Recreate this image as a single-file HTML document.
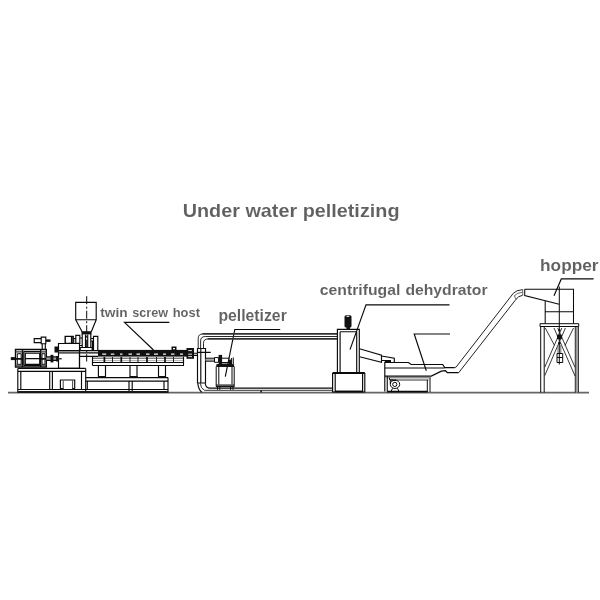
<!DOCTYPE html>
<html>
<head>
<meta charset="utf-8">
<title>Under water pelletizing</title>
<style>
html,body{margin:0;padding:0;background:#fff;width:600px;height:600px;overflow:hidden}
svg{display:block;will-change:transform}
svg text{font-family:"Liberation Sans",sans-serif;font-weight:bold;fill:#606060;stroke:#fff;stroke-width:.06px}
.l{fill:none;stroke:#0a0a0a;stroke-width:1.15}
.t{fill:none;stroke:#222;stroke-width:1}
.g{fill:none;stroke:#555;stroke-width:1.3}
.k{fill:#111;stroke:none}
.w{fill:#fff;stroke:none}
</style>
</head>
<body>
<svg width="600" height="600" viewBox="0 0 600 600">
<rect width="600" height="600" fill="#fff"/>

<!-- LABELS -->
<g id="labels">
<text x="182.700" y="217.300" font-size="18.200" textLength="216.800" lengthAdjust="spacingAndGlyphs">Under water pelletizing</text>
<text y="316.900" font-size="12.600"><tspan x="100.200" textLength="27.500" lengthAdjust="spacingAndGlyphs">twin</tspan> <tspan x="132.300" textLength="35.800" lengthAdjust="spacingAndGlyphs">screw</tspan> <tspan x="172.700" textLength="27.300" lengthAdjust="spacingAndGlyphs">host</tspan></text>
<text x="218.400" y="320.700" font-size="15.600" textLength="68.400" lengthAdjust="spacingAndGlyphs">pelletizer</text>
<text x="319.800" y="295" font-size="15" textLength="80.600" lengthAdjust="spacingAndGlyphs">centrifugal</text>
<text x="405.4" y="295" font-size="15" textLength="82.200" lengthAdjust="spacingAndGlyphs">dehydrator</text>
<text x="540.100" y="270.900" font-size="16.400" textLength="58.400" lengthAdjust="spacingAndGlyphs">hopper</text>
</g>

<!-- LEADERS -->
<g id="leaders" class="l">
<polyline points="169.300,322.400 124.500,322.400 153.500,350"/>
<polyline points="280.200,329.500 234.800,329.500 225.300,376.700"/>
<polyline points="449.500,304.800 366,304.800 350,349.600"/>
<polyline points="450,334 414.200,334 426.300,370.700"/>
<polyline points="593.600,278.900 561.300,278.900 554,295.800"/>
</g>

<!-- GROUND -->
<line x1="8" y1="392.700" x2="589" y2="392.700" stroke="#666" stroke-width="1.800"/>

<g id="extruder">
<!-- feed hopper -->
<path class="l" d="M75.700,302.400H96.200V319.700H75.700Z M75.700,319.700L82.100,331.700 M96.200,319.700L91.300,331.700"/>
<line class="l" x1="86.700" y1="296.200" x2="86.700" y2="361.500" style="stroke-dasharray:8 2.500 2 2;stroke-width:1"/>
<rect class="k" x="81.500" y="331.200" width="10.100" height="3.200"/>
<!-- neck -->
<path class="l" d="M82.200,334V347.500 M90.800,334V347.500 M85.500,334.500V347.500 M87.700,334.500V347.500"/>
<path class="l" d="M80.200,350.500V347.500H92.300V350.500 M80,350.600H98"/>
<!-- pieces right of neck -->
<path class="l" d="M93.500,336.400H97.800V350.500H93.500Z M91,338.500H93.500 M91,341H93.500"/><path d="M92.600,341V350" stroke="#0a0a0a" stroke-width="1.600" fill="none"/>
<!-- pieces left of neck -->
<path class="l" d="M65.200,336.400H73.200V343.400H65.200Z M71.600,336.400V343.400" style="stroke-width:1.400"/>
<path class="l" d="M73.200,338.500H75.800 M75.800,335.300H79.800V343.400H75.800Z M79.800,338H82.200 M79.800,345.500H82.200"/><path class="t" d="M74.500,339.500V342.500" style="stroke:#777;stroke-dasharray:1 1"/>
<!-- gearbox -->
<path class="l" d="M58.500,343.500H79.500V368.400H58.500Z M58.500,350.600H80 M58.500,352.800H80"/><path d="M58.500,351.700H79.500" stroke="#888" stroke-width="1.200" fill="none"/>
<rect class="k" x="54.5" y="346.5" width="4" height="6"/>
<!-- transition barrel -->
<path class="l" d="M80,352.800H98 M80,356.300H98 M79.500,350.500V368"/>
<!-- motor -->
<rect class="k" x="10.800" y="357.100" width="4.700" height="3"/>
<path class="l" d="M15.500,349.500H46.300V367H15.500Z M22.500,349.500V367 M40.700,349.500V367" style="stroke-width:1.400"/>
<path class="l" d="M23.400,351.600H40.700 M23.400,365.400H40.700 M23.800,351.600V365.400 M25.300,353.200H39.700V364.200H25.300Z M25.300,358.600H39.700"/>
<path class="l" d="M17.300,353.700H21.200V364.300H17.300Z M42,353.700H45V364.300H42Z" style="stroke-width:1"/>
<path d="M15.500,358.800H22.500 M40.700,358.800H46.300" stroke="#0a0a0a" stroke-width="1.800" fill="none"/>
<path d="M15.500,351.800H22.500 M15.500,365.200H22.500 M40.700,351.800H46.300 M40.700,365.200H46.300" stroke="#333" stroke-width="1.200" fill="none"/>
<!-- motor shaft -->
<path d="M46.300,358.600H58.500" stroke="#999" stroke-width="2.600" fill="none"/>
<path class="l" d="M46.300,356.800H58.500 M46.300,360.400H58.500"/>
<rect class="k" x="50.500" y="354.800" width="2.900" height="7.600"/>
<rect class="k" x="56.100" y="356" width="2.400" height="5.500"/>
<line class="l" x1="58.500" y1="358.800" x2="61.800" y2="358.800"/>
<!-- small valve on motor -->
<path class="l" d="M34.200,338.600H41.200V342.600H34.200Z M41.200,337.100H45.800V343.700H41.200Z M42.200,343.700V349.500 M45.300,343.700V349.500"/>
<rect class="k" x="45.800" y="339.400" width="4.700" height="2.500"/>
<!-- table -->
<path class="l" d="M17.800,368.400H85.700 M17.800,371.400H85.700 M17.800,368.400V391 M20.800,371.400V389 M49.700,371.400V389 M52.400,371.400V389 M81.500,371.400V389 M85.700,368.400V391"/>
<path class="l" d="M18,389.500H168" style="stroke-width:1"/><path class="l" d="M17.200,392H168.600" style="stroke-width:2;stroke:#1a1a1a"/>
<path class="l" d="M60.400,389.500V380H74.700V389.500"/><path class="t" d="M63.200,380.500V389.500 M72.600,380.500V389.500" style="stroke:#444"/><path d="M60.400,388.800H63.500 M72.300,388.800H74.700" stroke="#111" stroke-width="1.500" fill="none"/>
<!-- barrel -->
<rect class="k" x="98" y="349.900" width="89" height="6.700"/>
<path d="M102.200,354.100H106.200 M110.800,354.100H114.300 M120,354.100H122.500 M128.500,354.100H132 M136.500,354.100H140 M146,354.100H149.500 M154,354.100H158 M163,354.100H166 M171,354.100H174.500 M180,354.100H183" stroke="#f4f4f4" stroke-width="1.400" fill="none"/>
<rect class="k" x="171.500" y="346.500" width="5" height="4"/>
<rect class="w" x="173" y="348" width="2" height="1.300"/>
<!-- segments under barrel -->
<path class="t" d="M92.500,358.200H183.700" style="stroke:#444"/><path class="t" d="M92.500,360.600H183.700" style="stroke:#999;stroke-width:.8"/>
<path class="l" d="M92.500,356.800V365.500 M183.500,356.800V362.500"/>
<path class="l" d="M104.400,357V362.500 M121.300,357V362.500 M147,357V362.500 M165,357V362.500" style="stroke-width:1.700"/>
<path class="t" d="M112.500,357V362.500 M130,357V362.500 M138,357V362.500 M156.500,357V362.500 M173.500,357V362.500"/>
<!-- support beam -->
<path class="l" d="M92.500,362.500H183.500V365.500H92.500" style="stroke-width:1.100"/>
<path class="l" d="M98.400,365.200V377.500 M105.500,365.200V377.500 M130,365.200V377.500 M137,365.200V377.500 M158.500,365.200V377.500 M165.500,365.200V377.500"/>
<path d="M98,376.800H106 M129.800,376.800H137.600 M158,376.800H166" stroke="#111" stroke-width="1.600" fill="none"/>
<!-- lower beam -->
<path class="l" d="M85.500,377.600H168 M85.500,381.100H168 M168,377.600V391 M164,381.100V389 M87.300,381.100V389 M129,381.100V391 M132.200,381.100V391"/>
<!-- flange -->
<rect class="k" x="186.500" y="348" width="7.500" height="10.800"/>
<path d="M188.200,350.600H192 M188.200,354.200H192 M188.200,356.600H192" stroke="#ddd" stroke-width="1" fill="none"/>
<path class="l" d="M194,353.200H197.800 M194,355.400H197.800"/>
</g>

<g id="pelletizer">
<!-- vertical chamber -->
<path class="l" d="M197.500,348.500H205.500V383H197.500Z M200.800,348.500V383 M197.500,352.300H210.700"/>
<!-- top pipe -->
<path class="l" d="M198.200,348.500V338.600Q198.200,333.900 203,333.900 M200.600,348.500V341Q200.600,336.500 205.300,336.500H337.400 M203.500,348.500V343.200Q203.500,338.900 208.200,338.900" style="stroke-width:1;stroke:#2a2a2a"/>
<path class="l" d="M202.500,333.900H337.400 M207.800,338.900H337.400" style="stroke-width:1.700;stroke:#333"/>
<!-- bottom pipe -->
<path class="l" d="M197.800,383.200Q198.200,389 201.800,392.300"/>
<path class="l" d="M200.300,383.200Q200.600,388.600 204.500,390.300H332.600" style="stroke:#333;stroke-width:1"/>
<path class="l" d="M205.300,383.200Q205.500,387.400 209,388.100H332.600"/>
<rect class="k" x="260.300" y="390.500" width="1.600" height="1.800"/>
<!-- connecting pipe -->
<path d="M205.500,359.700H214.500" stroke="#aaa" stroke-width="2.200" fill="none"/>
<path class="l" d="M205.500,358.200H214.500 M205.500,361.200H214.500 M214.500,357.600H218.600V362.300H214.500Z M222,358.200H229.600 M222,362.500H229 M231.600,358V364 M233.300,357.500V364" style="stroke-width:1"/>
<rect class="k" x="218.600" y="354.900" width="3.500" height="9.600"/>
<rect class="k" x="228.600" y="359.600" width="3.200" height="4.400"/>
<!-- tank -->
<path class="k" d="M216.300,367V364.300Q225,362.600 234.100,364.300V367Z"/>
<rect x="216.200" y="384.300" width="18" height="2.300" fill="#555"/>
<path class="l" d="M216.200,366.500V386.600 M234.200,366.500V386.600 M218.800,366.500V384.500 M232,366.500V384.500 M216,386.600H234.400 M217.500,386.600V389.800 M219.800,386.600V389.800 M230.600,386.600V389.800 M233,386.600V389.800" style="stroke-width:1"/>
</g>

<g id="dehydrator">
<rect class="k" x="344.500" y="315.200" width="7" height="12.200" rx="1.500"/><rect class="k" x="346.500" y="327" width="3.500" height="2.500"/><ellipse cx="347.800" cy="316.300" rx="1.800" ry=".600" fill="#ddd"/>
<path class="l" d="M337.400,329.400H359.300V372.500H337.400Z M340.100,331.700V372.500 M356.700,331.700V372.500 M340.100,331.700H356.700"/>
<path d="M332.600,373.100H364.800" stroke="#0a0a0a" stroke-width="2" fill="none"/>
<path class="l" d="M332.600,373V392H364.800V373 M335.200,373V392 M362.600,373V392"/><path d="M335,391.400H362.800" stroke="#0a0a0a" stroke-width="1.700" fill="none"/>
<!-- chute -->
<path class="l" d="M359.500,348.700L381.500,355.200V362.300L359.500,356.800 M381.500,356L394.300,358.200V362.500 M381.500,360.500H391"/>
</g>

<g id="screen">
<path class="l" d="M384.800,391.500V362.500H408.400L411.200,364.500H442.700L444.700,367.600H454.700"/>
<path class="l" d="M384.800,368H444.500"/>
<path class="l" d="M384.800,376.200H431.300L441.300,371.200L445.500,370.600L447.300,372.700H458.700" style="stroke-width:1.300"/>
<path class="l" d="M384.800,377.800H431" style="stroke-width:0.800;stroke:#333"/>
<path class="l" d="M393.200,380H428.500" style="stroke-width:1;stroke:#333"/>
<path class="l" d="M387.300,376V391.500 M389.500,377.800V379.800H393.200 M427.300,380V392 M430,378V392" style="stroke-width:1"/>
<path d="M386,377V391.500" stroke="#aaa" stroke-width="1.300" fill="none"/>
<path d="M387,391.600H427.500" stroke="#0a0a0a" stroke-width="1.700" fill="none"/>
<path d="M384.800,361.300H391" stroke="#0a0a0a" stroke-width="1.500" fill="none"/>
<!-- blower -->
<ellipse class="l" cx="395" cy="384.300" rx="4.700" ry="4.200" style="stroke-width:1"/>
<circle class="l" cx="394.800" cy="384.400" r="2.100" style="stroke-width:1"/>
<path class="l" d="M390.300,384V380.200H396 M392.500,388.300L391,391.500 M397.500,388.300L399,391.500" style="stroke-width:1"/>
</g>

<g id="conveyor">
<path class="l" d="M454.700,367.600L456.200,367L513.300,293.300Q516,290.300 522.500,289.600" style="stroke-width:1;stroke:#222"/>
<path class="l" d="M458.700,372.700L516,299.300Q518,296.200 522.500,295.300" style="stroke-width:1;stroke:#222"/>
<path class="l" d="M516,299.300L514.300,295.700Q517,292.800 522.500,292.200" style="stroke-width:.8;stroke:#444"/>
<path class="l" d="M522.700,289V295.700" style="stroke-width:1;stroke:#666"/>
</g>

<g id="hopper">
<path class="l" d="M524.700,289.200H573.500V323.500 M524.700,289.200V295.500L559.200,304.200 M545.200,300.700V323.500 M545.200,311.700H573.500" style="stroke-width:1.050"/>
<line class="l" x1="559.300" y1="286.500" x2="559.300" y2="364.500" style="stroke-width:1"/>
<!-- stand -->
<path class="l" d="M540,323.700H578.700V326.500H540Z M540.700,326.500V392.500 M544.200,326.500V392.500 M575.300,326.500V392.500 M578.300,326.500V392.500" style="stroke-width:1"/>
<path d="M576.800,327V392.500" stroke="#999" stroke-width="2" fill="none"/>
<path class="t" d="M544.700,367.300L561.800,328 M544.700,375.700L565.400,328 M575,367.300L557.700,328 M575,376L554,328 M545.300,328L554.500,345.500 M573.500,328L565,345.500" style="stroke-width:.9"/>
<circle class="k" cx="559.300" cy="330" r="1.100"/>
<rect class="k" x="557" y="334.700" width="4.800" height="4.400"/>
<circle class="k" cx="559.300" cy="343.200" r="1.200"/>
<path class="t" d="M558,345V353.500 M560.800,345V353.500" style="stroke:#666"/>
<path class="l" d="M557,353.500H562.700V362.500H557Z M557,357.500H562.700" style="stroke-width:1"/>
</g>

</svg>
</body>
</html>
